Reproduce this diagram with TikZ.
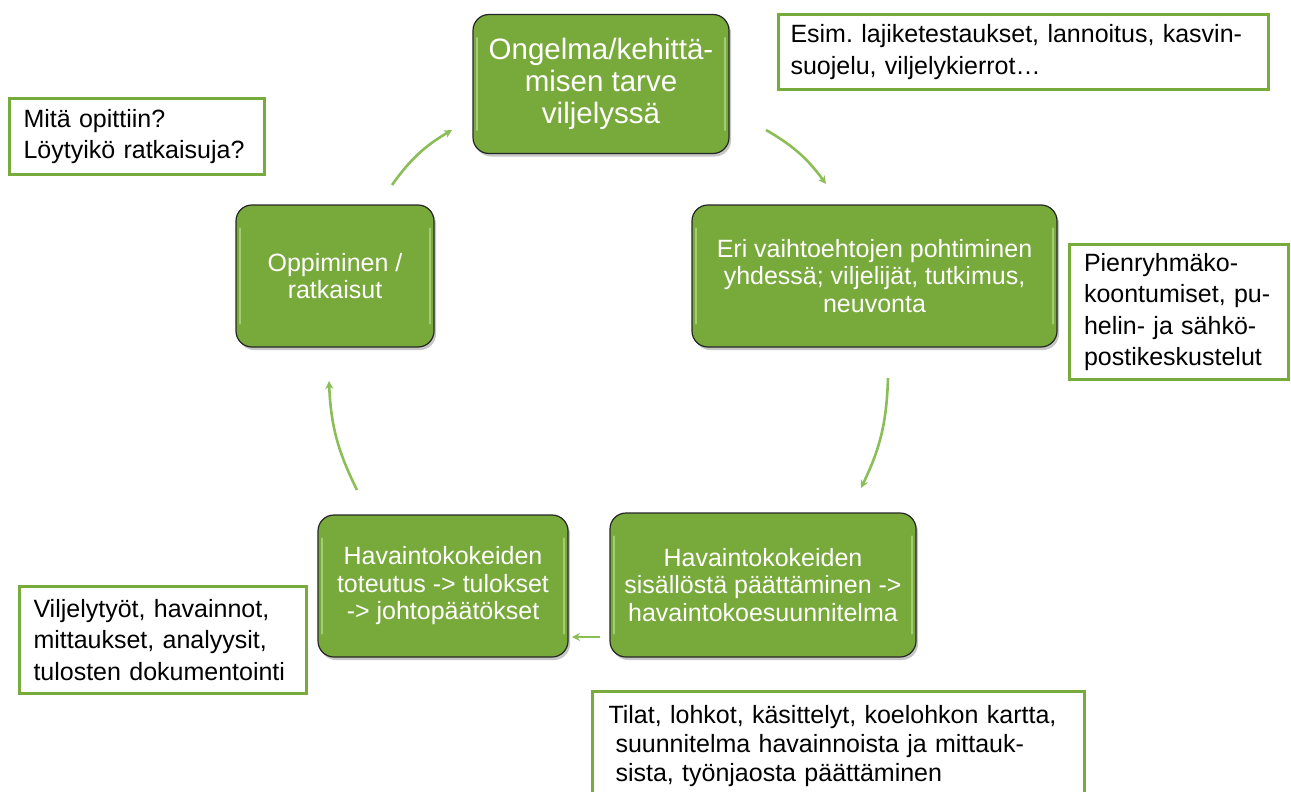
\documentclass[tikz,border=0pt]{standalone}
\usepackage{fontspec}
\setmainfont{Liberation Sans}
\usetikzlibrary{arrows.meta,shadows}
\definecolor{gfill}{HTML}{78A93B}
\definecolor{gline}{HTML}{77AB3B}
\definecolor{garrow}{HTML}{8CBE58}
\definecolor{ghl}{HTML}{B8DC8C}
\frenchspacing
\begin{document}
\begin{tikzpicture}[x=1pt,y=-1pt,
  gbox/.style={rounded corners=16pt, fill=gfill, draw=black!85, line width=1.2pt,
    text=white, align=center, inner sep=0pt,
    drop shadow={shadow xshift=2pt, shadow yshift=-3pt, opacity=0.45},
    font=\fontsize{25}{27.5}\selectfont},
  hl/.style={draw=ghl, line width=2pt, line cap=round, opacity=0.7},
  tbox/.style={draw=gline, line width=3pt, fill=white, align=left, anchor=north west,
    inner ysep=0pt, font=\fontsize{25}{31.5}\selectfont},
  cyc/.style={draw=garrow, line width=2.6pt, -{Stealth[length=8pt,width=8pt]}, bend left=12}]
\useasboundingbox (0,0) rectangle (1291,792);
\clip (0,0) rectangle (1291,792);

% green process boxes
\node[gbox, minimum width=256pt, minimum height=139pt, font=\fontsize{29.5}{32}\selectfont]
  (n1) at (601,84) {Ongelma/kehittä-\\misen tarve\\viljelyssä};
\node[gbox, minimum width=365pt, minimum height=142pt]
  (n2) at (874.5,276) {Eri vaihtoehtojen pohtiminen\\yhdessä; viljelijät, tutkimus,\\neuvonta};
\node[gbox, minimum width=306pt, minimum height=144pt]
  (n3) at (763,585) {Havaintokokeiden\\sisällöstä päättäminen ->\\havaintokoesuunnitelma};
\node[gbox, minimum width=250pt, minimum height=142pt]
  (n4) at (443,586) {Havaintokokeiden\\toteutus -> tulokset\\-> johtopäätökset};
\node[gbox, minimum width=198pt, minimum height=142pt]
  (n5) at (335,276) {Oppiminen /\\ratkaisut};

% bevel highlights
\foreach \n in {n1,n2,n3,n4,n5}{
  \draw[hl] ([shift={(5,24)}]\n.north west) -- ([shift={(5,-24)}]\n.south west);
  \draw[hl] ([shift={(-5,24)}]\n.north east) -- ([shift={(-5,-24)}]\n.south east);
}

% annotation boxes
\node[tbox, text width=466pt, inner xsep=12pt, minimum height=75pt] (t1) at (777,13)
  {Esim. lajiketestaukset, lannoitus, kasvin-\\suojelu, viljelykierrot…};
\node[tbox, text width=190pt, inner xsep=14.5pt, minimum height=135pt] (t2) at (1068,243)
  {Pienryhmäko-\\koontumiset, pu-\\helin- ja sähkö-\\postikeskustelut};
\node[tbox, text width=460pt, inner xsep=16pt, minimum height=110pt,
  font=\fontsize{25}{29}\selectfont] (t3) at (591,690)
  {Tilat, lohkot, käsittelyt, koelohkon kartta,\\\hspace*{7pt}suunnitelma havainnoista ja mittauk-\\\hspace*{7pt}sista, työnjaosta päättäminen};
\node[tbox, text width=259pt, inner xsep=14pt, minimum height=107pt] (t4) at (18,585)
  {Viljelytyöt, havainnot,\\mittaukset, analyysit,\\tulosten dokumentointi};
\node[tbox, text width=227pt, inner xsep=14pt, minimum height=76pt] (t5) at (8,97)
  {Mitä opittiin?\\Löytyikö ratkaisuja?};

% cycle arrows
\coordinate (a1s) at (392,185); \coordinate (a1e) at (452,130);
\coordinate (a2s) at (766,130); \coordinate (a2e) at (826,184);
\coordinate (a3s) at (888,378); \coordinate (a3e) at (861,488);
\coordinate (a4s) at (600,637); \coordinate (a4e) at (572,637);
\coordinate (a5s) at (357,490); \coordinate (a5e) at (329,381);
\draw[cyc] (a1s) to (a1e);
\draw[cyc] (a2s) to (a2e);
\draw[cyc] (a3s) to (a3e);
\draw[cyc, bend left=0] (a4s) to (a4e);
\draw[cyc] (a5s) to (a5e);
\end{tikzpicture}
\end{document}
